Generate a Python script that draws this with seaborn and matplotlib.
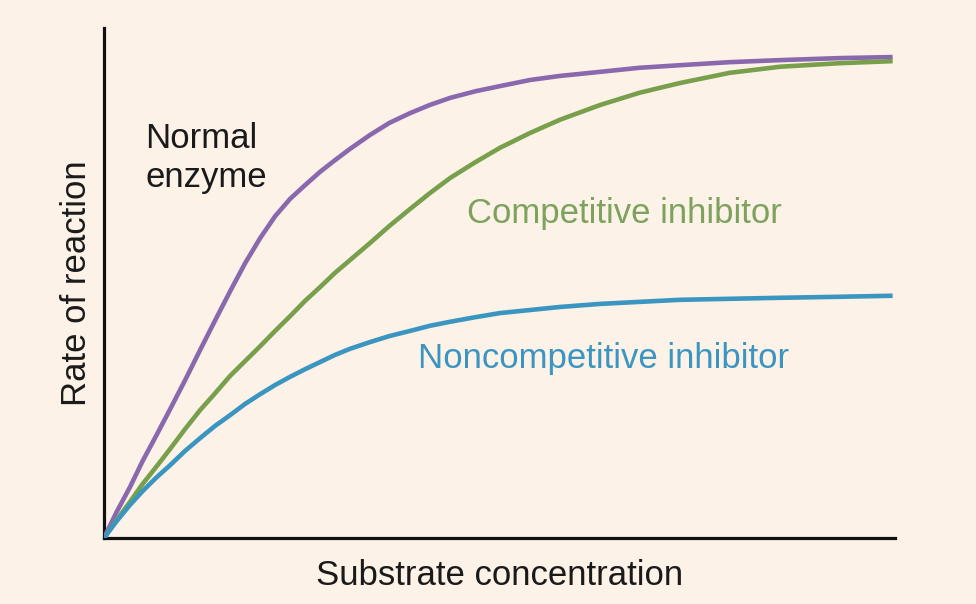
import numpy as np
import pandas as pd
import matplotlib
matplotlib.use("Agg")
import matplotlib.pyplot as plt
import seaborn as sns

# Substrate concentration (arbitrary units) shared by all series
substrate = [0, 0.16, 0.33, 0.49, 0.66, 0.84, 1.03, 1.22, 1.41, 1.60, 1.79, 1.98,
             2.17, 2.36, 2.55, 2.74, 2.93, 3.12, 3.37, 3.62, 3.88, 4.13, 4.39,
             4.71, 5.02, 5.40, 5.78, 6.29, 6.79, 7.30, 7.93, 8.57, 9.33, 10.0]
# Rate of reaction (arbitrary units, 0-100)
normal_enzyme = [0, 5.1, 10.0, 15.1, 20.0, 25.3, 31.0, 36.9, 42.7, 48.4, 53.9, 58.8,
                 63.1, 66.5, 69.2, 71.8, 74.1, 76.3, 79.0, 81.4, 83.3, 84.9, 86.3,
                 87.6, 88.6, 89.8, 90.6, 91.4, 92.2, 92.7, 93.3, 93.7, 94.1, 94.3]
competitive = [0, 3.5, 7.1, 10.6, 13.9, 17.5, 21.4, 25.1, 28.4, 31.8, 34.7, 37.6,
               40.6, 43.5, 46.5, 49.2, 52.0, 54.5, 57.8, 61.2, 64.5, 67.6, 70.6,
               73.7, 76.5, 79.4, 82.0, 84.9, 87.3, 89.2, 91.2, 92.4, 93.1, 93.5]
noncompetitive = [0, 3.3, 6.5, 9.2, 11.8, 14.3, 17.1, 19.6, 22.0, 24.1, 26.3, 28.2,
                  30.0, 31.6, 33.1, 34.5, 35.9, 37.1, 38.4, 39.6, 40.6, 41.6, 42.4,
                  43.3, 44.1, 44.7, 45.3, 45.9, 46.3, 46.7, 46.9, 47.1, 47.3, 47.5]

series_names = ["Normal enzyme", "Competitive inhibitor", "Noncompetitive inhibitor"]
series_values = [normal_enzyme, competitive, noncompetitive]

df = pd.concat([
    pd.DataFrame({"Substrate": substrate, "Rate": vals, "Series": name})
    for name, vals in zip(series_names, series_values)
], ignore_index=True)

bg = "#fcf2e8"
line_colors = {"Normal enzyme": "#8a68ae",
               "Competitive inhibitor": "#78a04c",
               "Noncompetitive inhibitor": "#3a96c0"}

sns.set_theme(style="white")
plt.rcParams["font.family"] = ["Liberation Sans", "DejaVu Sans"]

fig = plt.figure(figsize=(9.76, 6.04), dpi=100, facecolor=bg)
ax = fig.add_axes([104/976, 66/604, 791/976, 510/604])
ax.set_facecolor(bg)

sns.lineplot(data=df, x="Substrate", y="Rate", hue="Series",
             palette=line_colors, estimator=None, sort=False,
             linewidth=3.3, legend=False, ax=ax, zorder=3,
             solid_capstyle="butt", solid_joinstyle="round")

ax.set_xlim(0, 10.03)
ax.set_ylim(0, 100)
ax.set_xticks([])
ax.set_yticks([])
for s in ["top", "right"]:
    ax.spines[s].set_visible(False)
for s in ["left", "bottom"]:
    ax.spines[s].set_color("#111111")
    ax.spines[s].set_linewidth(2.3)

fs = 25
ax.set_xlabel("Substrate concentration", fontsize=fs, color="#1a1a1a", labelpad=15)
ax.set_ylabel("Rate of reaction", fontsize=fs, color="#1a1a1a", labelpad=8)

ax.text(0.52, 76.5, "Normal", fontsize=fs, color="#1a1a1a", ha="left", va="baseline")
ax.text(0.52, 68.8, "enzyme", fontsize=fs, color="#1a1a1a", ha="left", va="baseline")
ax.text(4.60, 61.8, "Competitive inhibitor", fontsize=fs, color="#7da25c",
        ha="left", va="baseline")
ax.text(3.98, 33.3, "Noncompetitive inhibitor", fontsize=fs, color="#3b95c0",
        ha="left", va="baseline")

fig.savefig("out.png", dpi=100, facecolor=bg)
